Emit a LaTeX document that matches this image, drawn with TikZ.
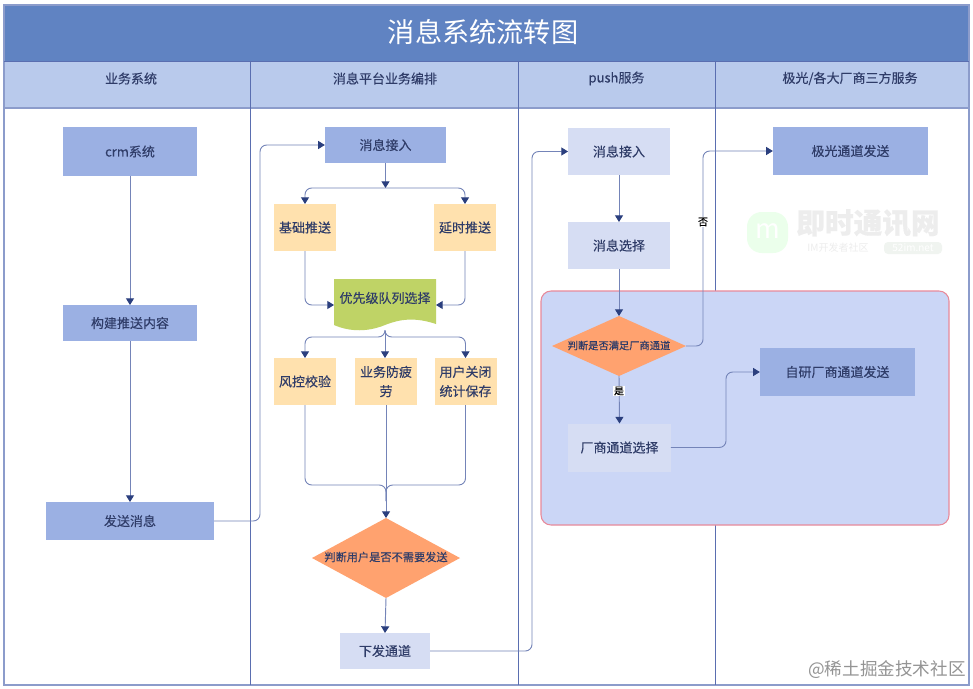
\documentclass[tikz,border=0pt]{standalone}
\usepackage{fontspec}
\setmainfont[FakeBold=0.3]{Noto Sans CJK SC}
\newfontfamily\plainfont{Noto Sans CJK SC}
\newfontfamily\heavyfont{Noto Sans CJK SC Bold}
\usetikzlibrary{arrows.meta,shapes.geometric}
\definecolor{titleblue}{HTML}{6083C2}
\definecolor{headblue}{HTML}{B9CAEC}
\definecolor{laneline}{HTML}{5A6EB0}
\definecolor{frameline}{HTML}{8C9CCB}
\definecolor{boxblue}{HTML}{9BB0E3}
\definecolor{boxlight}{HTML}{D6DDF3}
\definecolor{boxyellow}{HTML}{FFE1AE}
\definecolor{boxorange}{HTML}{FFA26F}
\definecolor{boxgreen}{HTML}{BFD366}
\definecolor{bigfill}{HTML}{CBD6F6}
\definecolor{bigline}{HTML}{E88A9A}
\definecolor{inktext}{HTML}{2F3C68}
\definecolor{conline}{HTML}{7484B8}
\definecolor{conhead}{HTML}{2B3F7E}
\tikzset{
  x=0.75pt,y=-0.75pt,
  base/.style={inner sep=0pt,outer sep=0pt,text=inktext,font=\fontsize{9.75}{14.5}\selectfont,align=center},
  bluebox/.style={base,fill=boxblue},
  lightbox/.style={base,fill=boxlight},
  yellowbox/.style={base,fill=boxyellow},
  lanehead/.style={inner sep=0pt,text=inktext,font=\fontsize{9.75}{11}\selectfont},
  conn/.style={draw=conline,line width=0.7pt,rounded corners=5pt,-{Triangle[length=5pt,width=6pt,fill=conhead,color=conhead]}},
  plainconn/.style={draw=conline,line width=0.7pt,rounded corners=5pt},
  yesno/.style={inner sep=0.8pt,fill=white,text=black,font=\fontsize{7.4}{8}\selectfont},
}
\begin{document}
\begin{tikzpicture}
\useasboundingbox (0,0) rectangle (973,688);
\fill[white] (0,0) rectangle (973,688);
% swimlane frame
\fill[titleblue] (4,5) rectangle (969,61);
\fill[headblue] (4,61) rectangle (969,108);
\draw[frameline,line width=0.8pt] (4,5) rectangle (969,685);
\draw[laneline,line width=0.6pt] (4,61) -- (969,61);
\draw[frameline,line width=0.8pt] (4,108) -- (969,108);
\draw[laneline,line width=0.7pt] (250,61) -- (250,685);
\draw[laneline,line width=0.7pt] (518,61) -- (518,685);
\draw[laneline,line width=0.7pt] (715,61) -- (715,685);
\node[inner sep=0pt,text=white,font=\plainfont\fontsize{20.4}{24}\selectfont] (title) at (483,32) {消息系统流转图};
\node[lanehead] (h1) at (131,78.5) {业务系统};
\node[lanehead] (h2) at (385,78.5) {消息平台业务编排};
\node[lanehead] (h3) at (616.5,78.5) {push服务};
\node[lanehead] (h4) at (850,78.5) {极光/各大厂商三方服务};
% watermark
\fill[green!35!white,opacity=0.22,rounded corners=11pt] (747,212) rectangle (788,253);
\node[inner sep=0pt,text=white,font=\plainfont\itshape\fontsize{20}{22}\selectfont] (wmlogo) at (768,231) {m};
\node[inner sep=0pt,text=black!7,font=\fontsize{21.5}{24}\selectfont\bfseries] (wm1) at (868,223) {即时通讯网};
\node[inner sep=0pt,text=black!7,font=\plainfont\fontsize{7.5}{9}\selectfont] (wm2) at (838,248) {IM开发者社区};
\node[inner sep=0pt,rounded corners=3pt,fill=green!25!black!6,text=white,font=\plainfont\fontsize{7.5}{9}\selectfont,minimum width=43.5pt,minimum height=9pt] (wm3) at (913,248) {52im.net};
% big group
\node[draw=bigline,fill=bigfill,line width=0.8pt,rounded corners=7.5pt,minimum width=306pt,minimum height=175.5pt,inner sep=0pt] (group) at (745,408) {};
% wave
\fill[boxgreen] (334,279) -- (436,279) -- (436,324) .. controls (415,317) and (400,319) .. (385,325) .. controls (368,332) and (350,332) .. (334,325) -- cycle;
% lane 1
\node[bluebox,minimum width=100.5pt,minimum height=36pt] (crm) at (130,151.5) {crm系统};
\node[bluebox,minimum width=100.5pt,minimum height=27pt] (build) at (130,323) {构建推送内容};
\node[bluebox,minimum width=126pt,minimum height=28.5pt] (send) at (130,521) {发送消息};
% lane 2
\node[bluebox,minimum width=91pt,minimum height=27pt] (in1) at (385.5,145) {消息接入};
\node[yellowbox,minimum width=46.5pt,minimum height=35.25pt] (basic) at (305,227.5) {基础推送};
\node[yellowbox,minimum width=46.5pt,minimum height=35.25pt] (delay) at (465,227.5) {延时推送};
\node[base,minimum width=76.5pt,minimum height=39pt] (pri) at (385,305) {};
\node[base] (pritext) at (385,298) {优先级队列选择};
\node[yellowbox,minimum width=46.5pt,minimum height=35.25pt] (risk) at (305,381.5) {风控校验};
\node[yellowbox,minimum width=46.5pt,minimum height=35.25pt] (fatigue) at (386,381.5) {业务防疲\\劳};
\node[yellowbox,minimum width=46.5pt,minimum height=35.25pt] (close) at (465.5,381.5) {用户关闭\\统计保存};
\path[fill=boxorange] (312,558) -- (386,518) -- (460,558) -- (386,598) -- cycle;
\coordinate (d1n) at (386,518);
\coordinate (d1s) at (386,598);
\node[base,font=\fontsize{8.4}{10}\selectfont] (d1) at (386,557) {判断用户是否不需要发送};
\node[lightbox,minimum width=67.5pt,minimum height=27pt] (out) at (385,651) {下发通道};
% lane 3
\node[lightbox,minimum width=76.5pt,minimum height=35.25pt] (in2) at (619,151.5) {消息接入};
\node[lightbox,minimum width=76.5pt,minimum height=35.25pt] (choose) at (619,245.5) {消息选择};
\path[fill=boxorange] (552,346) -- (619,316) -- (686,346) -- (619,376) -- cycle;
\coordinate (d2n) at (619,316);
\coordinate (d2s) at (619,376);
\coordinate (d2e) at (686,346);
\node[base,font=\fontsize{7.7}{9}\selectfont] (d2) at (619,345.5) {判断是否满足厂商通道};
\node[lightbox,minimum width=77pt,minimum height=36pt] (vendor) at (619.5,447.5) {厂商通道选择};
% lane 4
\node[bluebox,minimum width=116.5pt,minimum height=36pt] (jg) at (850.5,151) {极光通道发送};
\node[bluebox,minimum width=116.5pt,minimum height=36pt] (self) at (837.5,372) {自研厂商通道发送};
% turning points
\coordinate (t1) at (260,300);
\coordinate (t2) at (532,400);
\coordinate (t3) at (703,250);
\coordinate (t4) at (726,410);
\coordinate (jn1) at (385.5,188);
\coordinate (jn2) at (386,485);
% connectors
\draw[conn] (crm.south) -- (build.north);
\draw[conn] (build.south) -- (send.north);
\draw[conn] (send.east) -- (send.east -| t1) -- (t1 |- in1.west) -- (in1.west);
\draw[conn] (in1.south) -- (jn1);
\draw[conn] (jn1) -| (basic.north);
\draw[conn] (jn1) -| (delay.north);
\draw[conn] (basic.south) |- (pri.west);
\draw[conn] (delay.south) |- (pri.east);
\draw[conn] (pri.south) |- ([yshift=-4.5pt]pri.south -| risk.north) -- (risk.north);
\draw[conn] (pri.south) -- (pri.south |- fatigue.north);
\draw[conn] (pri.south) |- ([yshift=-4.5pt]pri.south -| close.north) -- (close.north);
\draw[plainconn] (risk.south) |- (jn2) -- ([yshift=-12pt]jn2);
\draw[plainconn] (close.south) |- (jn2) -- ([yshift=-12pt]jn2);
\draw[plainconn] (fatigue.south) -- (jn2);
\draw[conn] (jn2) -- (d1n);
\draw[conn] (d1s) -- (out.north);
\draw[conn] (out.east) -- (out.east -| t2) -- (t2 |- in2.west) -- (in2.west);
\draw[conn] (in2.south) -- (choose.north);
\draw[conn] (choose.south) -- (d2n);
\draw[conn] (d2e) -- (d2e -| t3) -- (t3 |- jg.west) -- (jg.west);
\draw[conn] (d2s) -- (vendor.north);
\draw[conn] (vendor.east) -- (vendor.east -| t4) -- (t4 |- self.west) -- (self.west);
\node[yesno] (no) at (703,222) {否};
\node[yesno] (yes) at (619,391) {是};
\node[inner sep=0pt,text=black!42,font=\plainfont\fontsize{13.2}{14}\selectfont] (juejin) at (887,670) {@稀土掘金技术社区};
\end{tikzpicture}
\end{document}
